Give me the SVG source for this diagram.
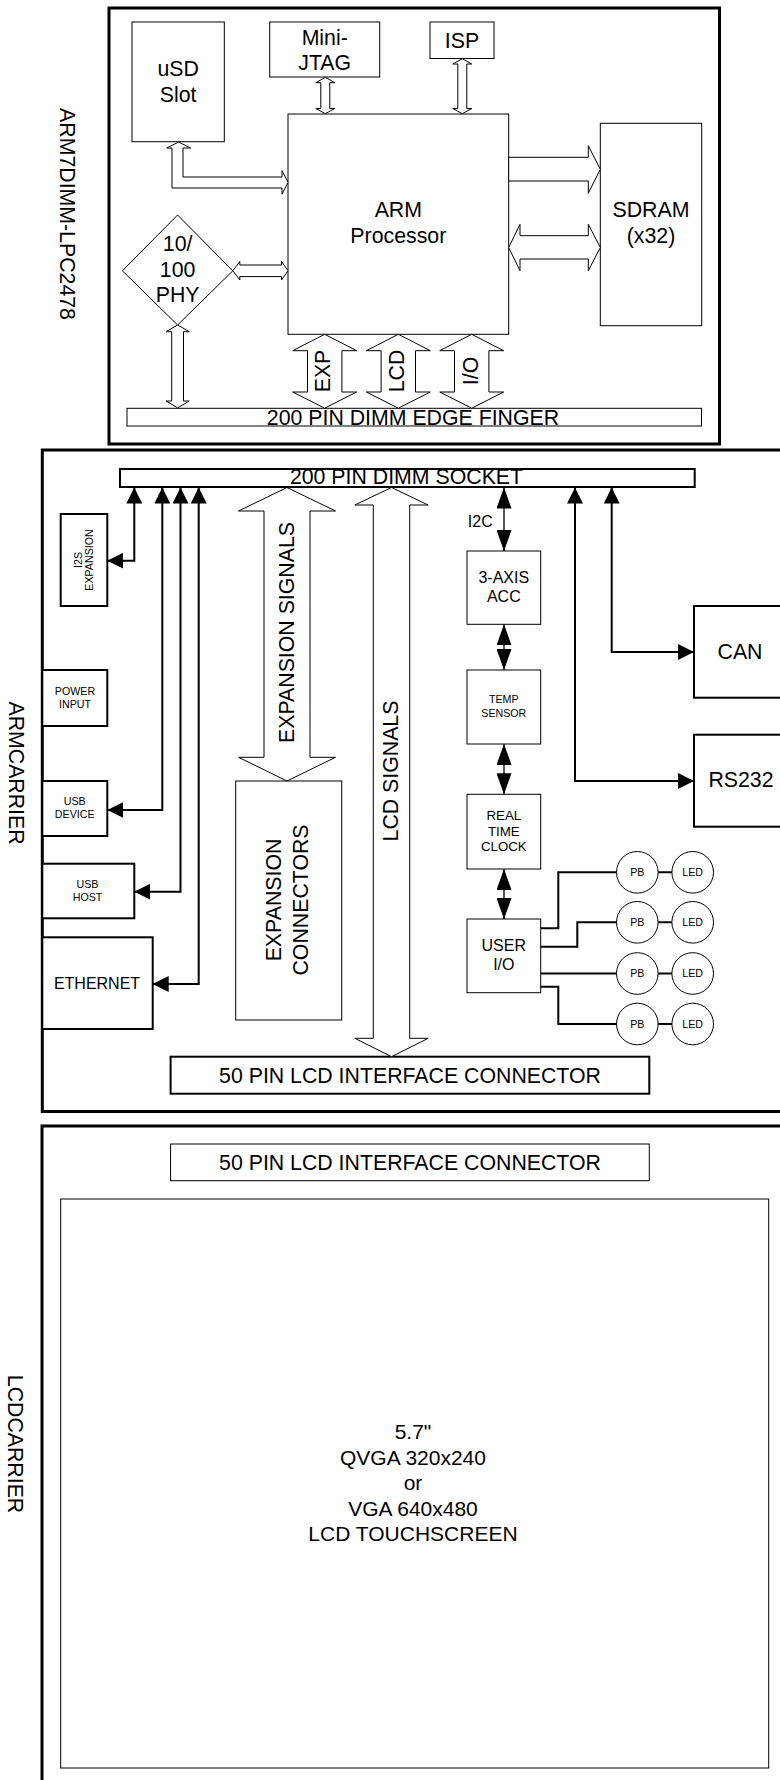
<svg xmlns="http://www.w3.org/2000/svg" width="780" height="1780" viewBox="0 0 780 1780">
<style>
.t{font-family:"Liberation Sans",Arial,sans-serif;fill:#000}
.f21{font-size:21.3px}.f16{font-size:16px}.f13{font-size:13.3px}.f10{font-size:10.67px}
.m{text-anchor:middle}
.thin{fill:#fff;stroke:#000;stroke-width:1}
.b2{fill:#fff;stroke:#000;stroke-width:2}
.b3{fill:none;stroke:#000;stroke-width:3}
.blk{fill:#fff;stroke:#000;stroke-width:1;stroke-linejoin:miter}
.ln{fill:none;stroke:#000;stroke-width:2}
.ln1{fill:none;stroke:#000;stroke-width:1.3}
</style>
<defs>
<marker id="ah" markerUnits="userSpaceOnUse" markerWidth="16" markerHeight="16" viewBox="0 0 16 16" refX="16" refY="8" orient="auto-start-reverse"><path d="M0,0L16,8L0,16z" fill="#000"/></marker>
<marker id="ahl" markerUnits="userSpaceOnUse" markerWidth="21" markerHeight="15" viewBox="0 0 21 15" refX="21" refY="7.5" orient="auto-start-reverse"><path d="M0,0L21,7.5L0,15z" fill="#000"/></marker>
</defs>
<rect x="0" y="0" width="780" height="1780" fill="#fff"/>

<!-- Side labels -->
<g id="labels" class="t f21 m">
<text transform="translate(68,214) rotate(90)" y="7.6">ARM7DIMM-LPC2478</text>
<text transform="translate(17,773) rotate(90)" y="7.6">ARMCARRIER</text>
<text transform="translate(16,1444) rotate(90)" y="7.6">LCDCARRIER</text>
</g>

<!-- ARM7DIMM module -->
<g id="arm7dimm"><rect class="b3" x="109" y="8" width="610.5" height="436"/></g>
<g id="usd"><rect class="thin" x="132" y="22" width="92.3" height="119.7"/><text class="t f21 m" x="178.2" y="76">uSD</text><text class="t f21 m" x="178.2" y="102">Slot</text></g>
<g id="jtag"><rect class="thin" x="269.7" y="22" width="110" height="55"/><text class="t f21 m" x="324.7" y="44.5">Mini-</text><text class="t f21 m" x="324.7" y="69.5">JTAG</text></g>
<g id="isp"><rect class="thin" x="430" y="22" width="64" height="36.5"/><text class="t f21 m" x="462" y="48">ISP</text></g>
<g id="arm"><rect class="thin" x="288" y="114" width="220.7" height="220.3"/><text class="t f21 m" x="398.3" y="216.7">ARM</text><text class="t f21 m" x="398.3" y="242.7">Processor</text></g>
<g id="sdram"><rect class="thin" x="600.3" y="123.3" width="101.4" height="202.4"/><text class="t f21 m" x="651" y="216.7">SDRAM</text><text class="t f21 m" x="651" y="242.7">(x32)</text></g>
<g id="phy"><polygon class="thin" points="177.6,215 232.8,270.8 177.6,325 122.4,270.8"/><text class="t f21 m" x="177.6" y="251">10/</text><text class="t f21 m" x="177.6" y="276.5">100</text><text class="t f21 m" x="177.6" y="301.5">PHY</text></g>
<g id="edgefinger"><rect class="thin" x="127" y="408.3" width="574.5" height="17.7"/><text class="t f21 m" x="413" y="424.5">200 PIN DIMM EDGE FINGER</text></g>

<!-- ARMCARRIER -->
<g id="armcarrier"><rect class="b3" x="42.3" y="450" width="760" height="661.5"/></g>
<g id="socket"><rect class="b2" x="120" y="469" width="574.7" height="18"/><text class="t f21 m" x="406.5" y="484">200 PIN DIMM SOCKET</text></g>
<g id="i2s"><rect class="b2" x="60.7" y="514" width="46.6" height="92"/><g transform="translate(84,560) rotate(-90)" class="t f10 m"><text y="-1.9">I2S</text><text y="8.5">EXPANSION</text></g></g>
<g id="power"><rect class="b2" x="42.3" y="670" width="65" height="56"/><text class="t f10 m" x="75" y="695">POWER</text><text class="t f10 m" x="75" y="708.3">INPUT</text></g>
<g id="usbdev"><rect class="b2" x="42.3" y="781" width="65" height="55"/><text class="t f10 m" x="74.7" y="805">USB</text><text class="t f10 m" x="74.7" y="818.3">DEVICE</text></g>
<g id="usbhost"><rect class="b2" x="42.3" y="863.7" width="92" height="54.6"/><text class="t f10 m" x="87.5" y="888.3">USB</text><text class="t f10 m" x="87.5" y="900.5">HOST</text></g>
<g id="ethernet"><rect class="b2" x="42.3" y="937.3" width="110.4" height="91.7"/><text class="t f16 m" x="97" y="988.5">ETHERNET</text></g>
<g id="expconn"><rect class="thin" x="235.7" y="781" width="106" height="239"/><g transform="translate(286.7,900) rotate(-90)" class="t f21 m"><text y="-5.8">EXPANSION</text><text y="20.9">CONNECTORS</text></g></g>
<g id="acc"><rect class="thin" x="467" y="551" width="73.7" height="73.3"/><text class="t f16 m" x="503.8" y="582.7">3-AXIS</text><text class="t f16 m" x="503.8" y="601.7">ACC</text></g>
<g id="temp"><rect class="thin" x="467" y="670" width="73.7" height="74"/><text class="t f10 m" x="503.8" y="703.3">TEMP</text><text class="t f10 m" x="503.8" y="716.7">SENSOR</text></g>
<g id="rtc"><rect class="thin" x="467" y="794.3" width="73.7" height="74.7"/><text class="t f13 m" x="503.8" y="820.2">REAL</text><text class="t f13 m" x="503.8" y="835.7">TIME</text><text class="t f13 m" x="503.8" y="851.2">CLOCK</text></g>
<g id="userio"><rect class="thin" x="467" y="919" width="73.7" height="73.7"/><text class="t f16 m" x="503.8" y="951">USER</text><text class="t f16 m" x="503.8" y="970">I/O</text></g>
<g id="can"><rect class="b2" x="694" y="606" width="100" height="91.7"/><text class="t f21 m" x="740" y="659">CAN</text></g>
<g id="rs232"><rect class="b2" x="694" y="734.7" width="100" height="92"/><text class="t f21 m" x="741" y="786.7">RS232</text></g>
<g id="pb1"><circle class="thin" cx="637.3" cy="872.3" r="20.8"/><text class="t f10 m" x="637.3" y="876.1">PB</text></g>
<g id="led1"><circle class="thin" cx="692.7" cy="872.3" r="20.8"/><text class="t f10 m" x="692.7" y="876.1">LED</text></g>
<g id="pb2"><circle class="thin" cx="637.3" cy="922.3" r="20.8"/><text class="t f10 m" x="637.3" y="926.1">PB</text></g>
<g id="led2"><circle class="thin" cx="692.7" cy="922.3" r="20.8"/><text class="t f10 m" x="692.7" y="926.1">LED</text></g>
<g id="pb3"><circle class="thin" cx="637.3" cy="973.5" r="20.8"/><text class="t f10 m" x="637.3" y="977.3">PB</text></g>
<g id="led3"><circle class="thin" cx="692.7" cy="973.5" r="20.8"/><text class="t f10 m" x="692.7" y="977.3">LED</text></g>
<g id="pb4"><circle class="thin" cx="637.3" cy="1024" r="20.8"/><text class="t f10 m" x="637.3" y="1027.8">PB</text></g>
<g id="led4"><circle class="thin" cx="692.7" cy="1024" r="20.8"/><text class="t f10 m" x="692.7" y="1027.8">LED</text></g>
<g id="lcdif1"><rect class="b2" x="170.6" y="1056.7" width="478.7" height="37"/><text class="t f21 m" x="410" y="1082.8">50 PIN LCD INTERFACE CONNECTOR</text></g>

<!-- LCDCARRIER -->
<g id="lcdcarrier"><rect class="b3" x="42" y="1126" width="760" height="700"/></g>
<g id="lcdif2"><rect class="thin" x="170.6" y="1144" width="478.7" height="36.7"/><text class="t f21 m" x="410" y="1170">50 PIN LCD INTERFACE CONNECTOR</text></g>
<g id="screen"><rect class="thin" x="60.7" y="1199" width="708" height="569"/>
<g class="t m" style="font-size:21px"><text x="413" y="1439">5.7"</text><text x="413" y="1464.5">QVGA 320x240</text><text x="413" y="1490">or</text><text x="413" y="1515.5">VGA 640x480</text><text x="413" y="1541">LCD TOUCHSCREEN</text></g></g>

<!-- Connectors -->
<g id="connectors">
<polygon class="blk" points="325.3,77.3 334.8,82.7 329.8,82.7 329.8,108.5 334.8,108.5 325.3,113.7 315.8,108.5 320.8,108.5 320.8,82.7 315.8,82.7"/>
<polygon class="blk" points="462.3,58.7 471.8,64 466.8,64 466.8,108.5 471.8,108.5 462.3,113.7 452.8,108.5 457.8,108.5 457.8,64 452.8,64"/>
<polygon class="blk" points="178.7,142 190.6,148 183,148 183,177 282,177 282,170.7 288,182.3 282,194.2 282,188 172,188 172,148 166.7,148"/>
<polygon class="blk" points="508.7,157.3 588.3,157.3 588.3,145.7 600.3,169.3 588.3,193.3 588.3,181 508.7,181"/>
<polygon class="blk" points="508.7,247.5 520,224.3 520,235.7 588.3,235.7 588.3,224.3 600.3,247.5 588.3,270.7 588.3,259 520,259 520,270.7"/>
<polygon class="blk" points="232.8,270.8 239.8,261.5 239.8,265 281.5,265 281.5,261.5 288,270.8 281.5,280 281.5,276.6 239.8,276.6 239.8,280"/>
<polygon class="blk" points="177.7,325 189.3,331.7 183.5,331.7 183.5,401 189.3,401 177.7,407.8 166,401 171.7,401 171.7,331.7 166,331.7"/>
<polygon class="blk" points="324.7,334.3 356.7,350.7 341.9,350.7 341.9,392 356.7,392 324.7,408.2 292.7,392 307.5,392 307.5,350.7 292.7,350.7"/>
<polygon class="blk" points="398.3,334.3 430.3,350.7 415.5,350.7 415.5,392 430.3,392 398.3,408.2 366.3,392 381.1,392 381.1,350.7 366.3,350.7"/>
<polygon class="blk" points="471.7,334.3 503.7,350.7 488.9,350.7 488.9,392 503.7,392 471.7,408.2 439.7,392 454.5,392 454.5,350.7 439.7,350.7"/>
<polygon class="blk" points="287,487.5 335.5,511 310,511 310,757.3 335.5,757.3 287,781 238.5,757.3 264,757.3 264,511 238.5,511"/>
<polygon class="blk" points="391.5,487.5 428.2,505 409.7,505 409.7,1038.3 428.2,1038.3 391.5,1056.7 354.8,1038.3 373.3,1038.3 373.3,505 354.8,505"/>
<path class="ln" d="M134.3,487.5V560.7H107.3" marker-start="url(#ah)" marker-end="url(#ah)"/>
<path class="ln" d="M162.3,487.5V810H107.3" marker-start="url(#ah)" marker-end="url(#ah)"/>
<path class="ln" d="M180.5,487.5V891.7H134.3" marker-start="url(#ah)" marker-end="url(#ah)"/>
<path class="ln" d="M198.7,487.5V984H152.7" marker-start="url(#ah)" marker-end="url(#ah)"/>
<path class="ln" d="M611.7,487.5V652H694" marker-start="url(#ah)" marker-end="url(#ah)"/>
<path class="ln" d="M575,487.5V781H694" marker-start="url(#ah)" marker-end="url(#ah)"/>
<path class="ln1" d="M504,487.5V551" marker-start="url(#ahl)" marker-end="url(#ahl)"/>
<path class="ln1" d="M504,624.3V670" marker-start="url(#ahl)" marker-end="url(#ahl)"/>
<path class="ln1" d="M504,744V794.3" marker-start="url(#ahl)" marker-end="url(#ahl)"/>
<path class="ln1" d="M504,869V919" marker-start="url(#ahl)" marker-end="url(#ahl)"/>
<text class="t f16" x="492.7" y="527.3" text-anchor="end">I2C</text>
<path class="ln" d="M540.7,928.3H558.3V872.3H616.5"/>
<path class="ln" d="M540.7,946.7H577.3V922.3H616.5"/>
<path class="ln" d="M540.7,973.5H616.5"/>
<path class="ln" d="M540.7,986.7H558.3V1024H616.5"/>
<path class="ln" d="M658.1,872.3H671.9M658.1,922.3H671.9M658.1,973.5H671.9M658.1,1024H671.9"/>
</g>

<!-- Rotated arrow labels -->
<g class="t f21 m">
<text transform="translate(322.7,371) rotate(-90)" y="7.6">EXP</text>
<text transform="translate(396.3,371) rotate(-90)" y="7.6">LCD</text>
<text transform="translate(470.8,371) rotate(-90)" y="7.6">I/O</text>
<text transform="translate(286,632.5) rotate(-90)" y="7.6">EXPANSION SIGNALS</text>
<text transform="translate(390.5,771) rotate(-90)" y="7.6">LCD SIGNALS</text>
</g>
</svg>
